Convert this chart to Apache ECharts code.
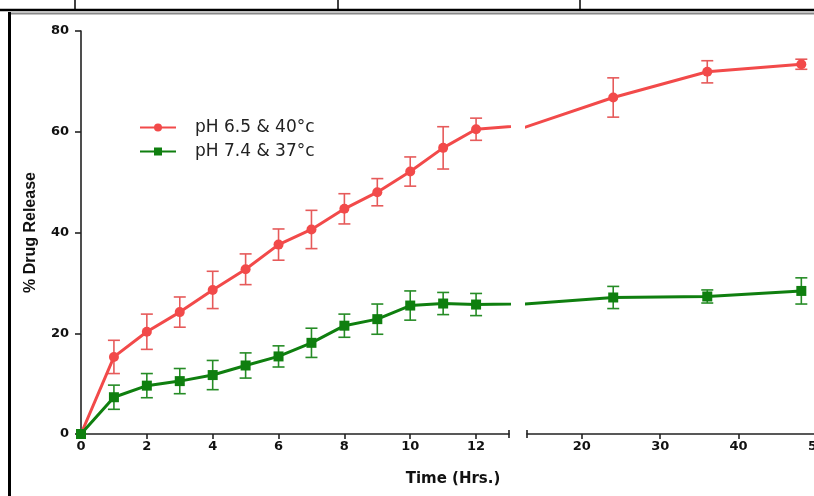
<!DOCTYPE html>
<html><head><meta charset="utf-8">
<script src="https://cdn.jsdelivr.net/npm/echarts@6/dist/echarts.min.js"></script>
<style>html,body{margin:0;padding:0;background:#fff}#c{width:814px;height:496px}</style>
</head><body><div id="c"></div>
<script>
const seriesNames = ['pH 6.5 & 40°c', 'pH 7.4 & 37°c'];
const timeEarly = [0,1,2,3,4,5,6,7,8,9,10,11,12];
const timeLate = [24,36,48];
const redEarly = [0,15.3,20.3,24.2,28.6,32.7,37.6,40.6,44.7,48.0,52.1,56.8,60.5];
const redEarlyErr = [0,3.3,3.5,3.0,3.7,3.05,3.1,3.8,3.0,2.7,2.9,4.2,2.2];
const redLate = [66.8,71.9,73.4];
const redLateErr = [3.9,2.2,1.0];
const greenEarly = [0,7.3,9.6,10.5,11.7,13.6,15.4,18.1,21.5,22.8,25.5,25.9,25.7];
const greenEarlyErr = [0,2.4,2.4,2.5,2.9,2.5,2.1,2.9,2.3,3.0,2.9,2.2,2.2];
const greenLate = [27.1,27.3,28.4];
const greenLateErr = [2.2,1.3,2.6];
const yTicks = [0,20,40,60,80];
const xTicksEarly = [0,2,4,6,8,10,12];
const xTicksLate = [20,30,40,50];

const RED = '#f24a4a', GREEN = '#0f7f0f';
const RED_ERR = '#e65a5a', GREEN_ERR = '#268c26';
const LBL = {fontFamily:'DejaVu Sans', fontWeight:'bold', fontSize:13, color:'#111'};

function pairs(t, v){ return t.map((x,i)=>[x, v[i]]); }
function errData(t, v, e){ return t.map((x,i)=>[x, v[i]-e[i], v[i]+e[i]]); }
function errRender(color){
  return function(params, api){
    const x = api.value(0);
    const top = api.coord([x, api.value(2)]);
    const bot = api.coord([x, api.value(1)]);
    const w = 6;
    const st = {stroke: color, lineWidth: 1.6};
    return {type:'group', children:[
      {type:'line', shape:{x1:top[0],y1:top[1],x2:bot[0],y2:bot[1]}, style:st},
      {type:'line', shape:{x1:top[0]-w,y1:top[1],x2:top[0]+w,y2:top[1]}, style:st},
      {type:'line', shape:{x1:bot[0]-w,y1:bot[1],x2:bot[0]+w,y2:bot[1]}, style:st}
    ]};
  };
}

// lines carry one point past the break so the clipped segment runs to the axis gap
const redLeft = pairs(timeEarly.concat([timeLate[0]]), redEarly.concat([redLate[0]]));
const redRight = pairs([timeEarly[timeEarly.length-1]].concat(timeLate), [redEarly[redEarly.length-1]].concat(redLate));
const greenLeft = pairs(timeEarly.concat([timeLate[0]]), greenEarly.concat([greenLate[0]]));
const greenRight = pairs([timeEarly[timeEarly.length-1]].concat(timeLate), [greenEarly[greenEarly.length-1]].concat(greenLate));

const axisLineStyle = {lineStyle:{color:'#222', width:1.6}};
const chart = echarts.init(document.getElementById('c'));
const option = {
  animation:false,
  backgroundColor:'#fff',
  grid:[
    {left:81, top:31, width:428, height:403, outerBoundsMode:'none', containLabel:false},
    {left:527, top:31, width:290, height:403, outerBoundsMode:'none', containLabel:false}
  ],
  title:{text:'Time (Hrs.)', left:448, top:467, textAlign:'center',
    textStyle:{fontFamily:'DejaVu Sans', fontWeight:'bold', fontSize:15, color:'#111'}},
  legend:{
    data: seriesNames, orient:'vertical', left:134, top:114, itemWidth:36, itemHeight:10, itemGap:7,
    textStyle:{fontFamily:'DejaVu Sans', fontSize:17, color:'#222', padding:[0,0,0,14]}
  },
  xAxis:[
    {type:'value', gridIndex:0, min:0, max:13, splitLine:{show:false},
      axisLine:axisLineStyle, axisTick:{customValues:xTicksEarly, length:5, lineStyle:{color:'#222', width:1.6}},
      axisLabel:Object.assign({customValues:xTicksEarly, margin:6}, LBL)},
    {type:'value', gridIndex:1, min:13, max:50, splitLine:{show:false},
      axisLine:axisLineStyle, axisTick:{customValues:xTicksLate, length:5, lineStyle:{color:'#222', width:1.6}},
      axisLabel:Object.assign({customValues:xTicksLate, margin:6, hideOverlap:false}, LBL)}
  ],
  yAxis:[
    {type:'value', gridIndex:0, min:0, max:80, interval:20, splitLine:{show:false},
      axisLine:Object.assign({show:true}, axisLineStyle), axisTick:{show:true, length:6, lineStyle:{color:'#222', width:1.6}},
      axisLabel:Object.assign({margin:12}, LBL),
      name:'% Drug Release', nameLocation:'middle', nameGap:42,
      nameTextStyle:{fontFamily:'Liberation Sans', fontWeight:'bold', fontSize:16, color:'#111'}},
    {type:'value', gridIndex:1, min:0, max:80, show:false}
  ],
  series:[
    {type:'custom', name:'errR0', xAxisIndex:0, yAxisIndex:0, renderItem:errRender(RED_ERR), data:errData(timeEarly, redEarly, redEarlyErr), z:1, clip:true},
    {type:'custom', name:'errR1', xAxisIndex:1, yAxisIndex:1, renderItem:errRender(RED_ERR), data:errData(timeLate, redLate, redLateErr), z:1, clip:true},
    {type:'custom', name:'errG0', xAxisIndex:0, yAxisIndex:0, renderItem:errRender(GREEN_ERR), data:errData(timeEarly, greenEarly, greenEarlyErr), z:1, clip:true},
    {type:'custom', name:'errG1', xAxisIndex:1, yAxisIndex:1, renderItem:errRender(GREEN_ERR), data:errData(timeLate, greenLate, greenLateErr), z:1, clip:true},
    {type:'line', name:seriesNames[0], xAxisIndex:0, yAxisIndex:0, data:redLeft, clip:true, z:3,
      symbol:'circle', symbolSize:10, lineStyle:{color:RED, width:3}, itemStyle:{color:RED}},
    {type:'line', name:seriesNames[0], xAxisIndex:1, yAxisIndex:1, data:redRight, clip:true, z:3,
      symbol:'circle', symbolSize:10, lineStyle:{color:RED, width:3}, itemStyle:{color:RED}},
    {type:'line', name:seriesNames[1], xAxisIndex:0, yAxisIndex:0, data:greenLeft, clip:true, z:4,
      symbol:'rect', symbolSize:10, lineStyle:{color:GREEN, width:3}, itemStyle:{color:GREEN}},
    {type:'line', name:seriesNames[1], xAxisIndex:1, yAxisIndex:1, data:greenRight, clip:true, z:4,
      symbol:'rect', symbolSize:10, lineStyle:{color:GREEN, width:3}, itemStyle:{color:GREEN}}
  ]
};
chart.setOption(option);

// frame and axis-break caps
const capL = chart.convertToPixel({xAxisIndex:0}, 13);
const capR = chart.convertToPixel({xAxisIndex:1}, 13);
const y0 = chart.convertToPixel({yAxisIndex:0}, 0);
chart.setOption({graphic:[
  {type:'line', shape:{x1:capL, y1:y0-4, x2:capL, y2:y0+4}, style:{stroke:'#222', lineWidth:1.6}},
  {type:'line', shape:{x1:capR, y1:y0-4, x2:capR, y2:y0+4}, style:{stroke:'#222', lineWidth:1.6}},
  {type:'line', shape:{x1:0, y1:10, x2:814, y2:10}, style:{stroke:'#000', lineWidth:2.5}},
  {type:'line', shape:{x1:8, y1:13.5, x2:814, y2:13.5}, style:{stroke:'#888', lineWidth:2}},
  {type:'line', shape:{x1:9.5, y1:12, x2:9.5, y2:496}, style:{stroke:'#000', lineWidth:3}},
  {type:'line', shape:{x1:75, y1:0, x2:75, y2:9}, style:{stroke:'#000', lineWidth:1.5}},
  {type:'line', shape:{x1:338, y1:0, x2:338, y2:9}, style:{stroke:'#000', lineWidth:1.5}},
  {type:'line', shape:{x1:580, y1:0, x2:580, y2:9}, style:{stroke:'#000', lineWidth:1.5}}
]});
</script></body></html>
